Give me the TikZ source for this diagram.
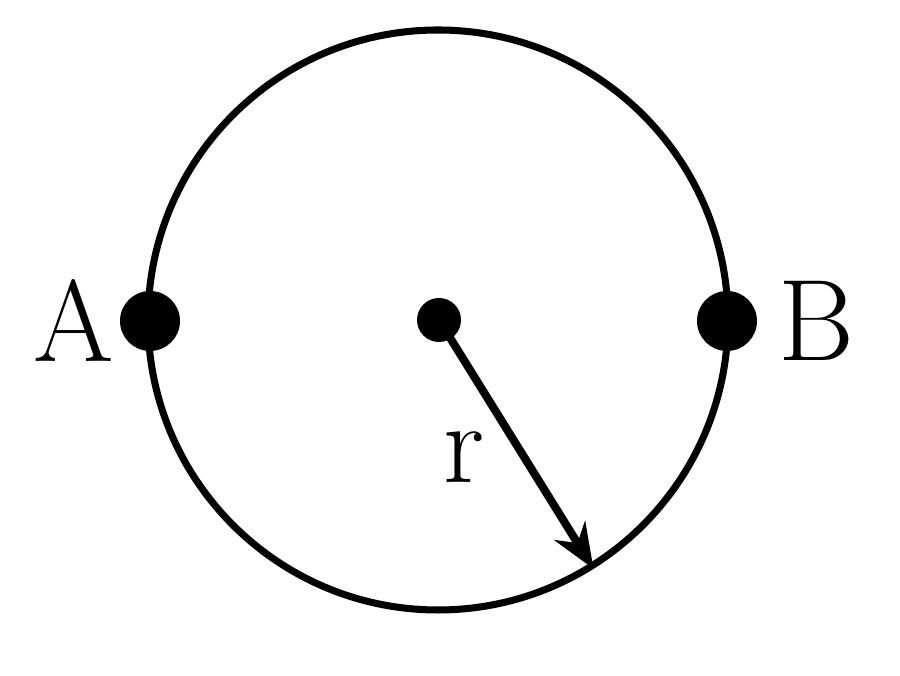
\documentclass[tikz,border=0pt]{standalone}
\usepackage{tikz}
\usetikzlibrary{arrows.meta}
\usetikzlibrary{positioning}
\tikzstyle{ring} = [circle, draw=black, line width=2pt, minimum size=5.8cm, inner sep=0pt]
\tikzstyle{bigdot} = [circle, fill=black, minimum size=0.6cm, inner sep=0pt]
\tikzstyle{smalldot} = [circle, fill=black, minimum size=0.44cm, inner sep=0pt]
\tikzstyle{letter} = [inner sep=0pt, font=\fontsize{33}{36}\selectfont]

\begin{document}
\begin{tikzpicture}
\useasboundingbox (0,0) rectangle (9,6.76);

\node (wheel) [ring] at (4.38,3.56) {};
\node (dotA) [bigdot] at (1.50,3.55) {};
\node (dotB) [bigdot] at (7.27,3.55) {};
\node (centre) [smalldot] at (4.39,3.56) {};

\node (labA) [letter, left=0.05cm of dotA] {A};
\node (labB) [letter, right=0.2cm of dotB] {B};

\draw [line width=2.3pt, -{Stealth[length=0.45cm, width=0.36cm]}] (centre.center) -- (wheel.-58.5)
  node (labr) [letter, pos=0.55, left=0.35cm] {r};
\end{tikzpicture}
\end{document}
